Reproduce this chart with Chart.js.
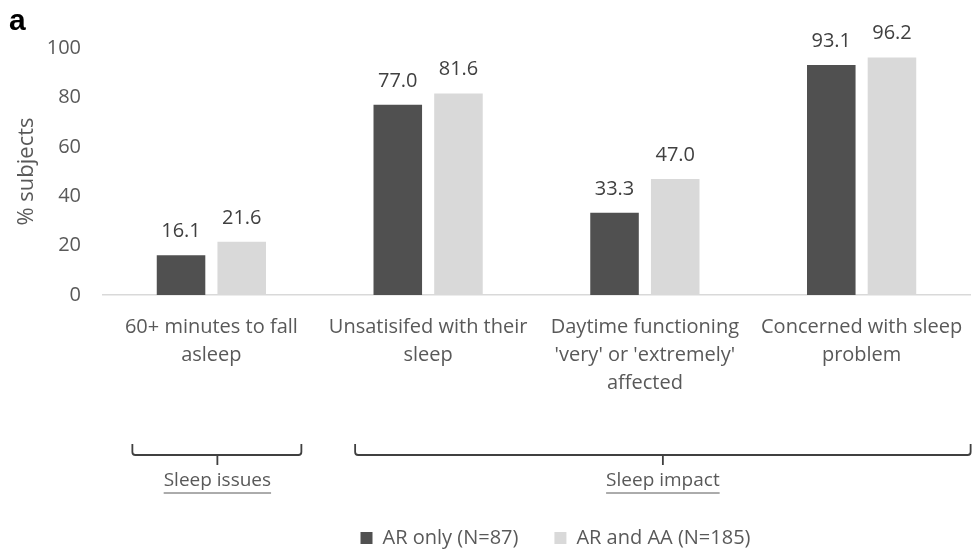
<!DOCTYPE html>
<html>
<head>
<meta charset="utf-8">
<script src="https://cdn.jsdelivr.net/npm/chart.js@4.4.0/dist/chart.umd.min.js"></script>
<style>
  html, body { margin: 0; padding: 0; background: #fff; }
  #wrap { width: 974px; height: 553px; }
</style>
</head>
<body>
<div id="wrap"><canvas id="c"></canvas></div>
<script>
const categories = [
  ["60+ minutes to fall", "asleep"],
  ["Unsatisifed with their", "sleep"],
  ["Daytime functioning", "'very' or 'extremely'", "affected"],
  ["Concerned with sleep", "problem"],
];
const arOnly = [16.1, 77.0, 33.3, 93.1];
const arAndAA = [21.6, 81.6, 47.0, 96.2];
const seriesNames = ["AR only (N=87)", "AR and AA (N=185)"];
const yTicks = [0, 20, 40, 60, 80, 100];

const C = {
  dark:  "#505050",
  light: "#d9d9d9",
  text:  "#595959",
  label: "#404040",
  axis:  "#d9d9d9",
  brace: "#404040",
};
const FONT = "'Open Sans', 'DejaVu Sans', sans-serif";

// value labels above bars
const valueLabels = {
  id: "valueLabels",
  afterDatasetsDraw(chart) {
    const { ctx } = chart;
    ctx.save();
    ctx.font = `20px ${FONT}`;
    ctx.fillStyle = C.label;
    ctx.textAlign = "center";
    ctx.textBaseline = "alphabetic";
    chart.data.datasets.forEach((ds, i) => {
      chart.getDatasetMeta(i).data.forEach((bar, j) => {
        ctx.fillText(ds.data[j].toFixed(1), bar.x, bar.y - 18);
      });
    });
    ctx.restore();
  },
};

// nudge the legend a bit right/down, like the original layout
const legendNudge = {
  id: "legendNudge",
  afterLayout(chart) {
    const lg = chart.legend;
    if (!lg) return;
    lg.left += 19; lg.right += 19;
    lg.top += 5; lg.bottom += 5;
  },
};

// panel letter + group braces under the axis
const extras = {
  id: "extras",
  afterDraw(chart) {
    const { ctx, chartArea } = chart;
    const x = chart.scales.x;
    ctx.save();
    ctx.font = `bold 30px 'Liberation Sans', Arial, sans-serif`;
    ctx.fillStyle = "#000";
    ctx.textBaseline = "alphabetic";
    ctx.fillText("a", 9, 30);

    const yTop = chartArea.bottom + 149;
    const yMid = chartArea.bottom + 160;
    const yTip = chartArea.bottom + 170;
    const yTxt = chartArea.bottom + 186;

    function brace(x0, x1, xc, text) {
      ctx.strokeStyle = C.brace;
      ctx.lineWidth = 1.8;
      ctx.beginPath();
      ctx.moveTo(x0, yTop);
      ctx.lineTo(x0, yMid - 3);
      ctx.quadraticCurveTo(x0, yMid, x0 + 3, yMid);
      ctx.lineTo(x1 - 3, yMid);
      ctx.quadraticCurveTo(x1, yMid, x1, yMid - 3);
      ctx.lineTo(x1, yTop);
      ctx.moveTo(xc, yMid);
      ctx.lineTo(xc, yTip);
      ctx.stroke();

      ctx.font = `19px ${FONT}`;
      ctx.fillStyle = C.text;
      ctx.textAlign = "center";
      ctx.textBaseline = "middle";
      ctx.fillText(text, xc, yTxt);
      const w = ctx.measureText(text).width;
      ctx.strokeStyle = C.text;
      ctx.lineWidth = 1;
      ctx.beginPath();
      ctx.moveTo(xc - w / 2, yTxt + 12);
      ctx.lineTo(xc + w / 2, yTxt + 12);
      ctx.stroke();
    }

    const p0 = x.getPixelForValue(0);
    const p1 = x.getPixelForValue(1);
    const p3 = x.getPixelForValue(3);
    brace(p0 - 79, p0 + 90, p0 + 6, "Sleep issues");
    brace(p1 - 73, p3 + 109, (p1 - 73 + p3 + 109) / 2, "Sleep impact");
    ctx.restore();
  },
};

new Chart(document.getElementById("c"), {
  type: "bar",
  data: {
    labels: categories,
    datasets: [
      { label: seriesNames[0], data: arOnly, backgroundColor: C.dark },
      { label: seriesNames[1], data: arAndAA, backgroundColor: C.light },
    ],
  },
  options: {
    responsive: true,
    maintainAspectRatio: false,
    animation: false,
    categoryPercentage: 0.56,
    barPercentage: 0.8,
    layout: { padding: { top: 48, right: 4, left: 0, bottom: 0 } },
    plugins: {
      legend: {
        position: "bottom",
        fullSize: false,
        labels: {
          boxWidth: 12,
          boxHeight: 12,
          padding: 36,
          color: C.text,
          font: { size: 20, family: FONT },
        },
      },
      tooltip: { enabled: false },
    },
    scales: {
      y: {
        min: 0,
        max: 100,
        afterBuildTicks: s => { s.ticks = yTicks.map(v => ({ value: v })); },
        afterFit: s => { s.width = 103; },
        grid: { display: false },
        border: { display: false },
        ticks: { color: C.text, padding: 14, font: { size: 20, family: FONT } },
        title: {
          display: true,
          text: "% subjects",
          color: C.text,
          font: { size: 22, family: FONT },
          padding: { top: 14, bottom: 0 },
        },
      },
      x: {
        grid: { display: false },
        border: { color: C.axis, width: 1.5 },
        ticks: {
          color: C.text,
          maxRotation: 0,
          autoSkip: false,
          padding: 10,
          font: { size: 20, family: FONT, lineHeight: 1.4 },
        },
        afterFit: s => { s.height = 192; },
      },
    },
  },
  plugins: [valueLabels, legendNudge, extras],
});
</script>
</body>
</html>
